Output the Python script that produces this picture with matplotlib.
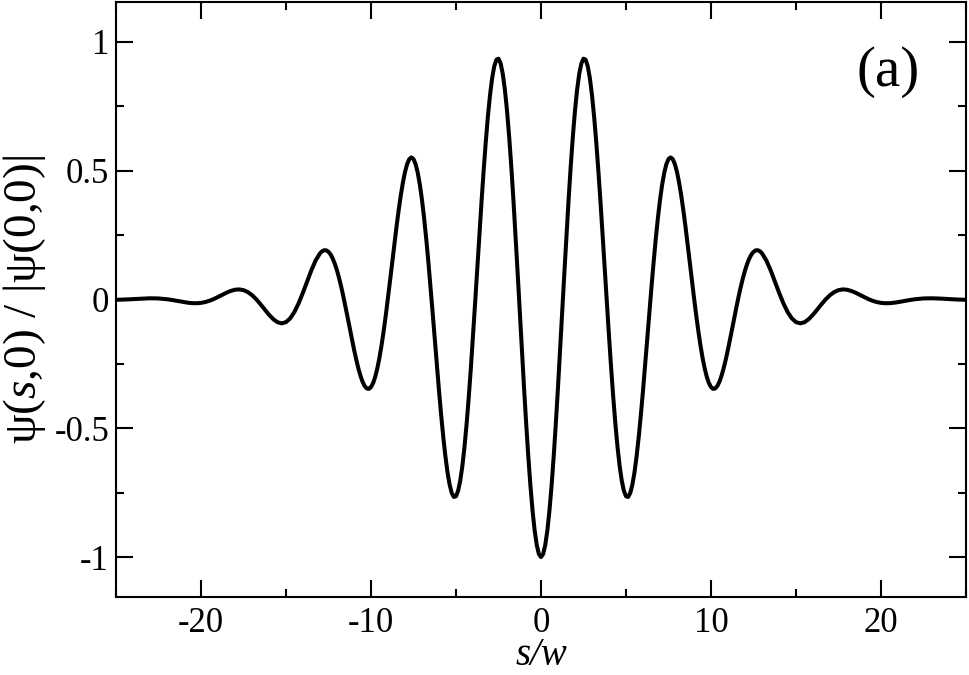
import matplotlib
matplotlib.use("Agg")
import matplotlib.pyplot as plt
from matplotlib.ticker import MultipleLocator

# ---- data ----
s_values = [
    -25.0, -24.5, -24.0, -23.5, -23.0, -22.5, -22.0,
    -21.75, -21.5, -21.25, -21.0, -20.75, -20.5, -20.25, -20.0, -19.75, -19.5, -19.25, -19.0,
    -18.75, -18.5, -18.25, -18.0, -17.75, -17.5, -17.25, -17.0, -16.75, -16.5, -16.25, -16.0,
    -15.75, -15.5, -15.25, -15.0, -14.75, -14.5, -14.25, -14.0, -13.75, -13.5, -13.25,
    -13.0,
    -12.875, -12.75, -12.625, -12.5, -12.375, -12.25, -12.125, -12.0,
    -11.875, -11.75, -11.625, -11.5, -11.375, -11.25, -11.125, -11.0,
    -10.875, -10.75, -10.625, -10.5, -10.375, -10.25, -10.125, -10.0,
    -9.875, -9.75, -9.625, -9.5, -9.375, -9.25, -9.125, -9.0,
    -8.875, -8.75, -8.625, -8.5, -8.375, -8.25, -8.125, -8.0,
    -7.875, -7.75, -7.625, -7.5, -7.375, -7.25, -7.125, -7.0,
    -6.875, -6.75, -6.625, -6.5, -6.375, -6.25, -6.125, -6.0,
    -5.875, -5.75, -5.625, -5.5, -5.375, -5.25, -5.125, -5.0,
    -4.875, -4.75, -4.625, -4.5, -4.375, -4.25, -4.125, -4.0,
    -3.875, -3.75, -3.625, -3.5, -3.375, -3.25, -3.125, -3.0,
    -2.875, -2.75, -2.625, -2.5, -2.375, -2.25, -2.125, -2.0,
    -1.875, -1.75, -1.625, -1.5, -1.375, -1.25, -1.125, -1.0,
    -0.875, -0.75, -0.625, -0.5, -0.375, -0.25, -0.125,
    0.0,
    0.125, 0.25, 0.375, 0.5, 0.625, 0.75, 0.875,
    1.0, 1.125, 1.25, 1.375, 1.5, 1.625, 1.75, 1.875,
    2.0, 2.125, 2.25, 2.375, 2.5, 2.625, 2.75, 2.875,
    3.0, 3.125, 3.25, 3.375, 3.5, 3.625, 3.75, 3.875,
    4.0, 4.125, 4.25, 4.375, 4.5, 4.625, 4.75, 4.875,
    5.0, 5.125, 5.25, 5.375, 5.5, 5.625, 5.75, 5.875,
    6.0, 6.125, 6.25, 6.375, 6.5, 6.625, 6.75, 6.875,
    7.0, 7.125, 7.25, 7.375, 7.5, 7.625, 7.75, 7.875,
    8.0, 8.125, 8.25, 8.375, 8.5, 8.625, 8.75, 8.875,
    9.0, 9.125, 9.25, 9.375, 9.5, 9.625, 9.75, 9.875,
    10.0, 10.125, 10.25, 10.375, 10.5, 10.625, 10.75, 10.875,
    11.0, 11.125, 11.25, 11.375, 11.5, 11.625, 11.75, 11.875,
    12.0, 12.125, 12.25, 12.375, 12.5, 12.625, 12.75, 12.875,
    13.0,
    13.25, 13.5, 13.75, 14.0, 14.25, 14.5, 14.75, 15.0, 15.25, 15.5, 15.75,
    16.0, 16.25, 16.5, 16.75, 17.0, 17.25, 17.5, 17.75, 18.0, 18.25, 18.5, 18.75,
    19.0, 19.25, 19.5, 19.75, 20.0, 20.25, 20.5, 20.75, 21.0, 21.25, 21.5, 21.75,
    22.0, 22.5, 23.0, 23.5, 24.0, 24.5, 25.0,
]

psi_values = [
    -0.0011, -0.0001, 0.0016, 0.0035, 0.0047, 0.0041, 0.0010,
    -0.0014, -0.0043, -0.0073, -0.0103, -0.0127, -0.0142, -0.0145, -0.0131, -0.0099, -0.0049, 0.0018, 0.0097,
    0.0182, 0.0264, 0.0333, 0.0379, 0.0392, 0.0364, 0.0290, 0.0170, 0.0009, -0.0183, -0.0390, -0.0590,
    -0.0762, -0.0882, -0.0926, -0.0879, -0.0729, -0.0478, -0.0136, 0.0273, 0.0715, 0.1148, 0.1524,
    0.1793,
    0.1874, 0.1914, 0.1907, 0.1851, 0.1745, 0.1588, 0.1380, 0.1126,
    0.0826, 0.0487, 0.0116, -0.0281, -0.0695, -0.1116, -0.1533, -0.1936,
    -0.2314, -0.2656, -0.2950, -0.3187, -0.3358, -0.3454, -0.3470, -0.3400,
    -0.3243, -0.2997, -0.2665, -0.2251, -0.1760, -0.1203, -0.0589, 0.0069,
    0.0755, 0.1454, 0.2149, 0.2823, 0.3456, 0.4033, 0.4535, 0.4948,
    0.5256, 0.5449, 0.5517, 0.5453, 0.5254, 0.4920, 0.4453, 0.3862,
    0.3155, 0.2347, 0.1454, 0.0496, -0.0507, -0.1530, -0.2549, -0.3538,
    -0.4473, -0.5328, -0.6079, -0.6706, -0.7190, -0.7514, -0.7666, -0.7639,
    -0.7427, -0.7032, -0.6459, -0.5718, -0.4823, -0.3793, -0.2650, -0.1419,
    -0.0130, 0.1188, 0.2503, 0.3783, 0.4995, 0.6110, 0.7097, 0.7931,
    0.8590, 0.9055, 0.9311, 0.9349, 0.9166, 0.8764, 0.8150, 0.7336,
    0.6340, 0.5185, 0.3896, 0.2506, 0.1045, -0.0451, -0.1945, -0.3402,
    -0.4786, -0.6063, -0.7203, -0.8176, -0.8959, -0.9532, -0.9882,
    -1.0000,
    -0.9882, -0.9532, -0.8959, -0.8176, -0.7203, -0.6063, -0.4786,
    -0.3402, -0.1945, -0.0451, 0.1045, 0.2506, 0.3896, 0.5185, 0.6340,
    0.7336, 0.8150, 0.8764, 0.9166, 0.9349, 0.9311, 0.9055, 0.8590,
    0.7931, 0.7097, 0.6110, 0.4995, 0.3783, 0.2503, 0.1188, -0.0130,
    -0.1419, -0.2650, -0.3793, -0.4823, -0.5718, -0.6459, -0.7032, -0.7427,
    -0.7639, -0.7666, -0.7514, -0.7190, -0.6706, -0.6079, -0.5328, -0.4473,
    -0.3538, -0.2549, -0.1530, -0.0507, 0.0496, 0.1454, 0.2347, 0.3155,
    0.3862, 0.4453, 0.4920, 0.5254, 0.5453, 0.5517, 0.5449, 0.5256,
    0.4948, 0.4535, 0.4033, 0.3456, 0.2823, 0.2149, 0.1454, 0.0755,
    0.0069, -0.0589, -0.1203, -0.1760, -0.2251, -0.2665, -0.2997, -0.3243,
    -0.3400, -0.3470, -0.3454, -0.3358, -0.3187, -0.2950, -0.2656, -0.2314,
    -0.1936, -0.1533, -0.1116, -0.0695, -0.0281, 0.0116, 0.0487, 0.0826,
    0.1126, 0.1380, 0.1588, 0.1745, 0.1851, 0.1907, 0.1914, 0.1874,
    0.1793,
    0.1524, 0.1148, 0.0715, 0.0273, -0.0136, -0.0478, -0.0729, -0.0879, -0.0926, -0.0882, -0.0762,
    -0.0590, -0.0390, -0.0183, 0.0009, 0.0170, 0.0290, 0.0364, 0.0392, 0.0379, 0.0333, 0.0264, 0.0182,
    0.0097, 0.0018, -0.0049, -0.0099, -0.0131, -0.0145, -0.0142, -0.0127, -0.0103, -0.0073, -0.0043, -0.0014,
    0.0010, 0.0041, 0.0047, 0.0035, 0.0016, -0.0001, -0.0011,
]

x_ticks = [-20, -10, 0, 10, 20]
x_ticklabels = ["-20", "-10", "0", "10", "20"]
y_ticks = [-1, -0.5, 0, 0.5, 1]
y_ticklabels = ["-1", "-0.5", "0", "0.5", "1"]
x_label = "s/w"
y_label = "ψ($s$,0) / |ψ(0,0)|"
panel_label = "(a)"

# ---- style ----
plt.rcParams["font.family"] = ["Liberation Serif", "DejaVu Serif"]
plt.rcParams["axes.unicode_minus"] = False
plt.rcParams["mathtext.fontset"] = "custom"
plt.rcParams["mathtext.rm"] = "Liberation Serif"
plt.rcParams["mathtext.it"] = "Liberation Serif:italic"

fig = plt.figure(figsize=(9.7, 6.75), dpi=100)
ax = fig.add_axes([116 / 970, 1 - 597 / 675, 850 / 970, 595 / 675])

ax.plot(s_values, psi_values, color="black", lw=2.9,
        solid_joinstyle="round", solid_capstyle="butt")

ax.set_xlim(-25, 25)
ax.set_ylim(-1.155, 1.155)

ax.set_xticks(x_ticks)
ax.set_xticklabels(x_ticklabels)
ax.set_yticks(y_ticks)
ax.set_yticklabels(y_ticklabels)
ax.xaxis.set_minor_locator(MultipleLocator(5))
ax.yaxis.set_minor_locator(MultipleLocator(0.25))

for sp in ax.spines.values():
    sp.set_linewidth(1.5)

ax.tick_params(which="both", direction="in", top=True, right=True, width=1.5)
ax.tick_params(which="major", length=12)
ax.tick_params(which="minor", length=6)
ax.tick_params(axis="x", which="major", labelsize=25, pad=7)
ax.tick_params(axis="y", which="major", labelsize=25, pad=5)

ax.set_xlabel(x_label, fontsize=28, style="italic", va="bottom")
ax.xaxis.set_label_coords(0.5, -0.1295)
ax.set_ylabel(y_label, fontsize=34)
ax.yaxis.set_label_coords(-0.080, 0.5)

ax.text(0.908, 0.882, panel_label, transform=ax.transAxes, fontsize=41,
        ha="center", va="center")

fig.savefig("out.png", dpi=100)
